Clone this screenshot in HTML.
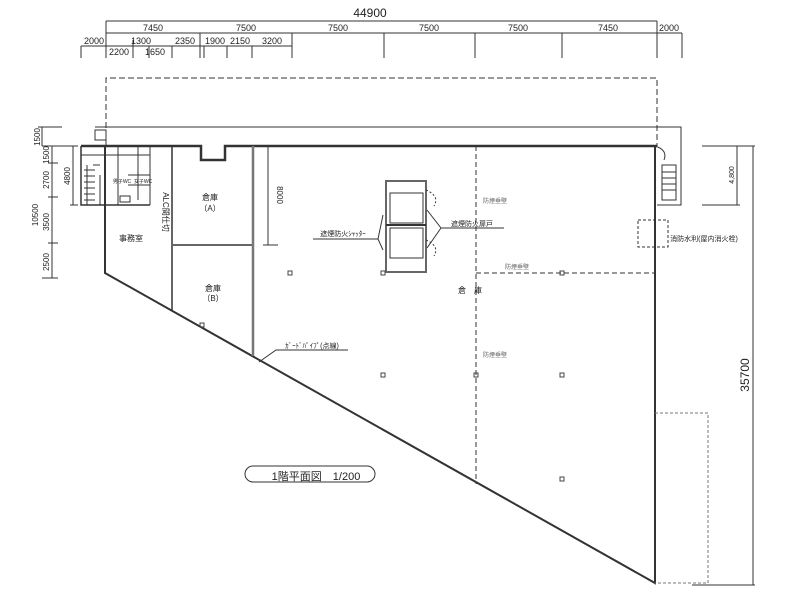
<!DOCTYPE html>
<html><head><meta charset="utf-8"><style>
html,body{margin:0;padding:0;background:#fff;}
svg{display:block;font-family:"Liberation Sans","Noto Sans CJK JP",sans-serif;}
</style></head><body>
<svg width="800" height="600" viewBox="0 0 800 600" xmlns="http://www.w3.org/2000/svg">
<rect width="800" height="600" fill="#fff"/>
<g stroke="#333" stroke-width="1" fill="none">
<line x1="106" y1="21" x2="657" y2="21"/>
<line x1="106" y1="33" x2="682" y2="33"/>
<line x1="81" y1="46" x2="292" y2="46"/>
<g>
<line x1="106" y1="21" x2="106" y2="58"/><line x1="657" y1="21" x2="657" y2="58"/>
<line x1="200" y1="33" x2="200" y2="58"/><line x1="292" y1="33" x2="292" y2="58"/>
<line x1="384" y1="33" x2="384" y2="58"/><line x1="475" y1="33" x2="475" y2="58"/>
<line x1="562" y1="33" x2="562" y2="58"/><line x1="682" y1="33" x2="682" y2="58"/>
<line x1="81" y1="46" x2="81" y2="58"/><line x1="133" y1="40" x2="133" y2="58"/>
<line x1="149" y1="46" x2="149" y2="58"/>
<line x1="172" y1="46" x2="172" y2="58"/><line x1="204" y1="46" x2="204" y2="58"/>
<line x1="227" y1="46" x2="227" y2="58"/><line x1="252" y1="46" x2="252" y2="58"/>
</g>
<path d="M106 146 V78 H657 V146" stroke-dasharray="6,3"/>
<path d="M95 127 H681 V205 H657"/>
<path d="M81 146 H201 V160 H225 V146 H657" stroke-width="2.5"/>
<path d="M105 146 V273 L655 583 V146" stroke-width="2"/>
<path d="M81 146 V205 H150" stroke-width="1.5"/>
<line x1="172" y1="146" x2="172" y2="311" stroke-width="1.5"/>
<line x1="172" y1="245" x2="253" y2="245" stroke-width="2" stroke="#666"/>
<line x1="253" y1="146" x2="253" y2="356" stroke-width="2.5" stroke="#777"/>
<path d="M81 155 H150 M118 146 V205 M138 146 V200 M150 146 V205 M100 175 V205 M93 165 H100 M128 175 H150 M128 185 H150"/>
<path d="M84 170 L95 170 M84 176 H95 M84 182 H95 M84 188 H95 M84 194 H95 M84 200 H95 M87 165 V205"/>
<rect x="120" y="196" width="10" height="6"/>
<path d="M95 130 H106 V140 H95 Z"/>
<line x1="476" y1="146" x2="476" y2="484" stroke-dasharray="5,3"/>
<line x1="476" y1="273" x2="655" y2="273" stroke-dasharray="5,3"/>
<rect x="386" y="181" width="40" height="91" stroke-width="2" stroke="#666"/>
<rect x="390" y="193" width="33" height="30"/>
<rect x="390" y="228" width="33" height="30"/>
<line x1="386" y1="225" x2="426" y2="225" stroke-width="2"/>
<path d="M426 190 Q440 196 434 206 M426 240 Q440 246 434 256" stroke-dasharray="2,2"/>
<path d="M378 239 H313 M378 239 L383 215 M378 239 L383 250"/>
<path d="M441 228 H504 M441 228 L427 210 M441 228 L427 248"/>
<line x1="268" y1="146" x2="268" y2="245"/><line x1="263" y1="245" x2="278" y2="245"/>
<path d="M259 362 L276 350 H348"/>
<path d="M662 165 H676 V200 H662 Z M662 172 H676 M662 178 H676 M662 184 H676 M662 190 H676"/>
<path d="M655 146 Q668 150 664 160"/>
<rect x="638" y="220" width="30" height="27" stroke-dasharray="3,2"/>
<path d="M655 413 H708 V583 H655" stroke-dasharray="3,2" stroke="#777"/>
<line x1="753" y1="146" x2="753" y2="585"/>
<line x1="692" y1="585" x2="755" y2="585"/>
<line x1="702" y1="146" x2="755" y2="146"/>
<line x1="737" y1="146" x2="737" y2="205"/>
<line x1="702" y1="205" x2="740" y2="205"/>
<line x1="42" y1="127" x2="42" y2="146"/>
<line x1="52" y1="146" x2="52" y2="278"/>
<line x1="73" y1="146" x2="73" y2="205"/>
<path d="M38 127 H62 M42 146 H78 M48 163 H58 M48 197 H58 M48 243 H58 M42 278 H58 M70 205 H78"/>
<rect x="245" y="466" width="130" height="16" rx="8"/>
</g>
<g fill="none" stroke="#444">
<rect x="288" y="271" width="4" height="4"/><rect x="381" y="271" width="4" height="4"/>
<rect x="560" y="271" width="4" height="4"/><rect x="381" y="373" width="4" height="4"/>
<rect x="560" y="373" width="4" height="4"/><rect x="200" y="323" width="4" height="4"/>
<rect x="474" y="373" width="4" height="4"/><rect x="560" y="477" width="4" height="4"/>
</g>
<g font-size="9" fill="#222" text-anchor="middle">
<text x="370" y="17" font-size="12">44900</text>
<text x="153" y="31">7450</text><text x="246" y="31">7500</text><text x="338" y="31">7500</text>
<text x="429" y="31">7500</text><text x="518" y="31">7500</text><text x="608" y="31">7450</text>
<text x="669" y="31">2000</text>
<text x="94" y="44">2000</text><text x="141" y="44">1300</text><text x="185" y="44">2350</text>
<text x="215" y="44">1900</text><text x="240" y="44">2150</text><text x="272" y="44">3200</text>
<text x="119" y="55">2200</text><text x="155" y="55">1650</text>
<text x="316" y="480" font-size="11">1階平面図　1/200</text>
<text x="210" y="200" font-size="8">倉庫</text><text x="210" y="211" font-size="8">（A）</text>
<text x="213" y="291" font-size="8">倉庫</text><text x="213" y="301" font-size="8">（B）</text>
<text x="131" y="241" font-size="8">事務室</text>
<text x="470" y="293" font-size="8">倉　庫</text>
<text x="343" y="236" font-size="7">遮煙防火ｼｬｯﾀｰ</text>
<text x="472" y="226" font-size="7">遮煙防火扉戸</text>
<text x="312" y="348" font-size="7">ｶﾞｰﾄﾞﾊﾟｲﾌﾟ(点線)</text>
<text x="495" y="203" font-size="6" fill="#666">防煙垂壁</text>
<text x="517" y="269" font-size="6" fill="#666">防煙垂壁</text>
<text x="495" y="357" font-size="6" fill="#666">防煙垂壁</text>
<text x="704" y="241" font-size="7">消防水利(屋内消火栓)</text>
<text x="122" y="183" font-size="5">男子WC</text><text x="143" y="183" font-size="5">女子WC</text>
<text transform="translate(749,375) rotate(-90)" font-size="12">35700</text>
<text transform="translate(734,175) rotate(-90)" font-size="7">4,800</text>
<text transform="translate(277,195) rotate(90)" font-size="8">8000</text>
<text transform="translate(163,212) rotate(90)" font-size="8">ALC間仕切</text>
<text transform="translate(40,137) rotate(-90)" font-size="8">1500</text>
<text transform="translate(49,155) rotate(-90)" font-size="8">1500</text>
<text transform="translate(49,180) rotate(-90)" font-size="8">2700</text>
<text transform="translate(38,215) rotate(-90)" font-size="8">10500</text>
<text transform="translate(49,222) rotate(-90)" font-size="8">3500</text>
<text transform="translate(49,262) rotate(-90)" font-size="8">2500</text>
<text transform="translate(70,176) rotate(-90)" font-size="8">4800</text>
</g>
</svg>
</body></html>
